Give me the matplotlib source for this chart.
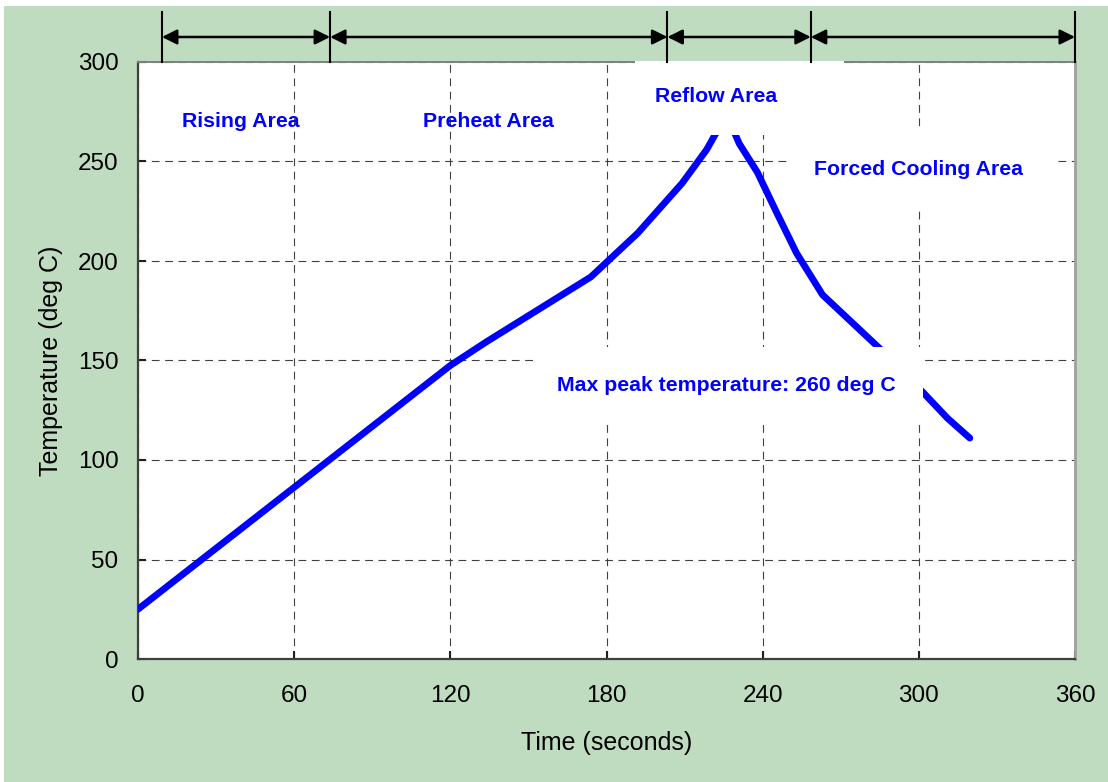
import matplotlib
matplotlib.use("Agg")
import matplotlib.pyplot as plt
from matplotlib.patches import Rectangle

# ---- data ----
time_s = [0, 120, 134, 174, 192, 209, 218.5, 221.5, 224, 228, 231, 238, 245.5,
          253, 263, 285, 301.6, 311, 319.6]
temp_c = [25, 147.5, 159.5, 192, 214, 239, 256, 263, 268, 268, 259, 244.5, 224,
          204, 183, 156, 134, 121, 111]
zone_bounds = [9.2, 73.8, 203.4, 258.5, 360]
zone_labels = ["Rising Area", "Preheat Area", "Reflow Area", "Forced Cooling Area"]
zone_label_xy = [(39.6, 267.3), (134.5, 267.3), (222.0, 279.9), (299.7, 243.2)]
peak_label = "Max peak temperature: 260 deg C"
peak_label_xy = (226.1, 134.7)
x_ticks = [0, 60, 120, 180, 240, 300, 360]
y_ticks = [0, 50, 100, 150, 200, 250, 300]

# white label boxes (x0, x1, y0, y1) in data coords
label_boxes = [(190.9, 271.2, 263.3, 300.5),
               (250.5, 353.5, 227.1, 265.8),
               (153.3, 301.6, 119.6, 156.8)]

W, H = 1108, 782
fig = plt.figure(figsize=(W / 100, H / 100), dpi=100, facecolor="white")
fig.patches.append(Rectangle((4 / W, 0), 1, (H - 6) / H, transform=fig.transFigure,
                             facecolor="#c0dcc0", edgecolor="none", zorder=-10))
ax = fig.add_axes([138 / W, 1 - 659 / H, (1075 - 138) / W, (659 - 62) / H])
ax.set_facecolor("white")

ax.plot(time_s, temp_c, color="#0000ff", lw=4.9, solid_capstyle="round",
        solid_joinstyle="round", zorder=3)

ax.set_xlim(0, 360)
ax.set_ylim(0, 300)
ax.set_xticks(x_ticks)
ax.set_yticks(y_ticks)
ax.grid(True, color="#404040", lw=0.8, linestyle=(0, (7, 5)))
ax.set_axisbelow(True)

font = "Liberation Sans"
ax.tick_params(axis="both", direction="in", length=6, width=1.5, color="#202020",
               labelsize=17.5, labelcolor="black")
ax.tick_params(axis="x", pad=19)
ax.tick_params(axis="y", pad=14)
for lab in ax.get_xticklabels() + ax.get_yticklabels():
    lab.set_fontfamily(font)
ax.set_xlabel("Time (seconds)", fontsize=18, family=font, labelpad=17)
ax.set_ylabel("Temperature (deg C)", fontsize=18, family=font, labelpad=11)

for side in ["left", "bottom"]:
    ax.spines[side].set_color("#404040")
    ax.spines[side].set_linewidth(1.6)
ax.spines["top"].set_color("#808080")
ax.spines["top"].set_linewidth(1.4)
ax.spines["right"].set_color("#a0a0a0")
ax.spines["right"].set_linewidth(2.0)

# white boxes
for x0, x1, y0, y1 in label_boxes:
    ax.add_patch(Rectangle((x0, y0), x1 - x0, y1 - y0, facecolor="white",
                           edgecolor="none", zorder=4, clip_on=False))

for txt, (x, y) in zip(zone_labels, zone_label_xy):
    ax.text(x, y, txt, color="#0000ff", fontsize=15.3, fontweight="bold", family=font,
            ha="center", va="baseline", zorder=6)
ax.text(*peak_label_xy, peak_label, color="#0000ff", fontsize=15.3, fontweight="bold",
        family=font, ha="center", va="baseline", zorder=6)

# zone arrows above the axes
trans = ax.get_xaxis_transform()
line_top = 1 + 50 / 597
arrow_y = 1 + 25 / 597
for b in zone_bounds:
    ax.plot([b, b], [1.0, line_top], transform=trans, color="black", lw=1.5,
            clip_on=False, zorder=5)
for a, b in zip(zone_bounds[:-1], zone_bounds[1:]):
    ax.annotate("", xy=(b, arrow_y), xytext=(a, arrow_y), xycoords=trans,
                textcoords=trans,
                arrowprops=dict(arrowstyle="<|-|>,head_length=0.9,head_width=0.45",
                                color="black", lw=1.8, shrinkA=0, shrinkB=0),
                annotation_clip=False, zorder=5)

fig.savefig("out.png", dpi=100, facecolor=fig.get_facecolor())
